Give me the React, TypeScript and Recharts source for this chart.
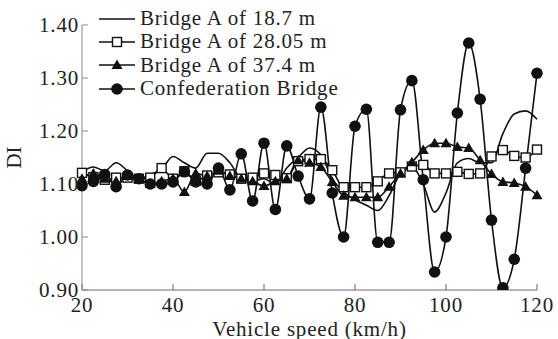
import { LineChart, Line, XAxis, YAxis, Legend } from "recharts"

const speed = [
  20, 22.5, 25, 27.5, 30, 32.5, 35, 37.5, 40, 42.5, 45, 47.5, 50, 52.5, 55, 57.5, 60, 62.5, 65, 67.5, 70,
  72.5, 75, 77.5, 80, 82.5, 85, 87.5, 90, 92.5, 95, 97.5, 100, 102.5, 105, 107.5, 110, 112.5, 115, 117.5, 120,
]

// Bridge A of 18.7 m (plain line)
const bridgeA187 = [
  1.123, 1.132, 1.125, 1.14, 1.125, 1.11, 1.118, 1.128, 1.152, 1.14, 1.13, 1.158, 1.158, 1.14, 1.11, 1.105, 1.11,
  1.1, 1.13, 1.15, 1.168, 1.155, 1.11, 1.085, 1.07, 1.06, 1.05, 1.078, 1.12, 1.132, 1.1, 1.047, 1.083, 1.14, 1.148,
  1.14, 1.14, 1.195, 1.232, 1.238, 1.222,
]

// Bridge A of 28.05 m (squares)
const bridgeA2805 = [
  1.121, 1.113, 1.108, 1.112, 1.112, 1.11, 1.112, 1.13, 1.11, 1.124, 1.106, 1.116, 1.122, 1.118, 1.11, 1.112, 1.12,
  1.117, 1.111, 1.143, 1.147, 1.147, 1.126, 1.094, 1.094, 1.094, 1.105, 1.12, 1.122, 1.133, 1.136, 1.12, 1.12, 1.123,
  1.119, 1.12, 1.152, 1.164, 1.153, 1.15, 1.165,
]

// Bridge A of 37.4 m (triangles)
const bridgeA374 = [
  1.11, 1.12, 1.11, 1.105, 1.115, 1.11, 1.1, 1.105, 1.11, 1.085, 1.12, 1.115, 1.125, 1.115, 1.11, 1.105, 1.096,
  1.105, 1.11, 1.145, 1.14, 1.132, 1.104, 1.078, 1.075, 1.075, 1.075, 1.095, 1.12, 1.141, 1.164, 1.177, 1.177, 1.17,
  1.168, 1.145, 1.119, 1.104, 1.102, 1.095, 1.079,
]

// Confederation Bridge (circles)
const confederation = [
  1.097, 1.105, 1.118, 1.095, 1.117, 1.11, 1.1, 1.1, 1.104, 1.123, 1.104, 1.1, 1.13, 1.089, 1.157, 1.068, 1.177,
  1.052, 1.172, 1.115, 1.072, 1.245, 1.083, 1.0, 1.209, 1.241, 0.99, 0.99, 1.24, 1.295, 1.108, 0.934, 1.0, 1.234,
  1.366, 1.26, 1.032, 0.904, 0.958, 1.13, 1.309,
]

const xTicks = [20, 40, 60, 80, 100, 120]
const yTicks = [0.9, 1.0, 1.1, 1.2, 1.3, 1.4]

const rows = speed.map((s, i) => ({
  speed: s,
  a187: bridgeA187[i],
  a2805: bridgeA2805[i],
  a374: bridgeA374[i],
  conf: confederation[i],
}))

const INK = "#111"
const FONT = "'Liberation Serif', 'Times New Roman', serif"
const txt = { fill: "#222", fontSize: 21, fontFamily: FONT, letterSpacing: 0.8 }

function Square(p: any) {
  if (p.cx == null || p.cy == null) return null
  return <rect key={p.key} x={p.cx - 4.5} y={p.cy - 4.5} width={9} height={9} fill="#fff" stroke={INK} strokeWidth={1.4} />
}

function Tri(p: any) {
  if (p.cx == null || p.cy == null) return null
  const { cx, cy } = p
  return <path key={p.key} d={`M${cx},${cy - 5.5} L${cx + 5.5},${cy + 4} L${cx - 5.5},${cy + 4} Z`} fill={INK} />
}

function Dot(p: any) {
  if (p.cx == null || p.cy == null) return null
  return <circle key={p.key} cx={p.cx} cy={p.cy} r={5.8} fill={INK} />
}

const legendIcons: Record<string, (x: number, y: number) => any> = {
  a187: () => null,
  a2805: (x, y) => <rect x={x - 4.5} y={y - 4.5} width={9} height={9} fill="#fff" stroke={INK} strokeWidth={1.4} />,
  a374: (x, y) => <path d={`M${x},${y - 5.5} L${x + 5.5},${y + 4} L${x - 5.5},${y + 4} Z`} fill={INK} />,
  conf: (x, y) => <circle cx={x} cy={y} r={5.8} fill={INK} />,
}

function LegendBox(props: any) {
  const items = props.payload || []
  return (
    <div style={{ fontFamily: FONT, fontSize: 21, letterSpacing: 0.8, color: "#222", lineHeight: "23.3px" }}>
      {items.map((it: any) => (
        <div key={it.dataKey} style={{ display: "flex", alignItems: "center", height: 23.3, whiteSpace: "nowrap" }}>
          <svg width={42} height={20} style={{ flex: "none" }}>
            <line x1={1} y1={10} x2={37} y2={10} stroke={INK} strokeWidth={1.6} />
            {legendIcons[it.dataKey]?.(19, 10)}
          </svg>
          <span>{it.value}</span>
        </div>
      ))}
    </div>
  )
}

export default function App() {
  return (
    <div style={{ position: "absolute", left: 0, top: 0, width: 558, height: 339, background: "#fff" }}>
      <LineChart width={558} height={339} data={rows} margin={{ top: 25, right: 21, bottom: 0, left: 0 }}>
        <XAxis
          dataKey="speed"
          type="number"
          domain={[20, 120]}
          ticks={xTicks}
          height={49}
          stroke="#666"
          tickSize={-6}
          tickMargin={13}
          tick={txt}
          label={{ value: "Vehicle speed (km/h)", position: "insideBottom", offset: 3, ...txt }}
        />
        <YAxis
          domain={[0.9, 1.4]}
          ticks={yTicks}
          width={82}
          stroke="#888"
          tickSize={-6}
          tickMargin={9}
          allowDataOverflow
          tickFormatter={(v: number) => v.toFixed(2)}
          tick={txt}
          label={(p: any) => {
            const vb = p.viewBox || { y: 25, height: 265 }
            const cy = vb.y + vb.height / 2
            return (
              <text x={21} y={cy} transform={`rotate(-90 21 ${cy})`} textAnchor="middle" fill="#222" fontSize={21} fontFamily={FONT}>
                DI
              </text>
            )
          }}
        />
        <Legend
          layout="vertical"
          align="center"
          verticalAlign="middle"
          content={<LegendBox />}
          wrapperStyle={{ left: 98, top: 7, width: 330, height: 95 }}
        />
        <Line dataKey="a187" name="Bridge A of 18.7 m" type="monotone" stroke={INK} strokeWidth={1.6} dot={false} isAnimationActive={false} />
        <Line dataKey="a2805" name="Bridge A of 28.05 m" type="monotone" stroke={INK} strokeWidth={1.6} dot={Square} isAnimationActive={false} />
        <Line dataKey="a374" name="Bridge A of 37.4 m" type="monotone" stroke={INK} strokeWidth={1.6} dot={Tri} isAnimationActive={false} />
        <Line dataKey="conf" name="Confederation Bridge" type="monotone" stroke={INK} strokeWidth={1.6} dot={Dot} isAnimationActive={false} />
      </LineChart>
    </div>
  )
}
